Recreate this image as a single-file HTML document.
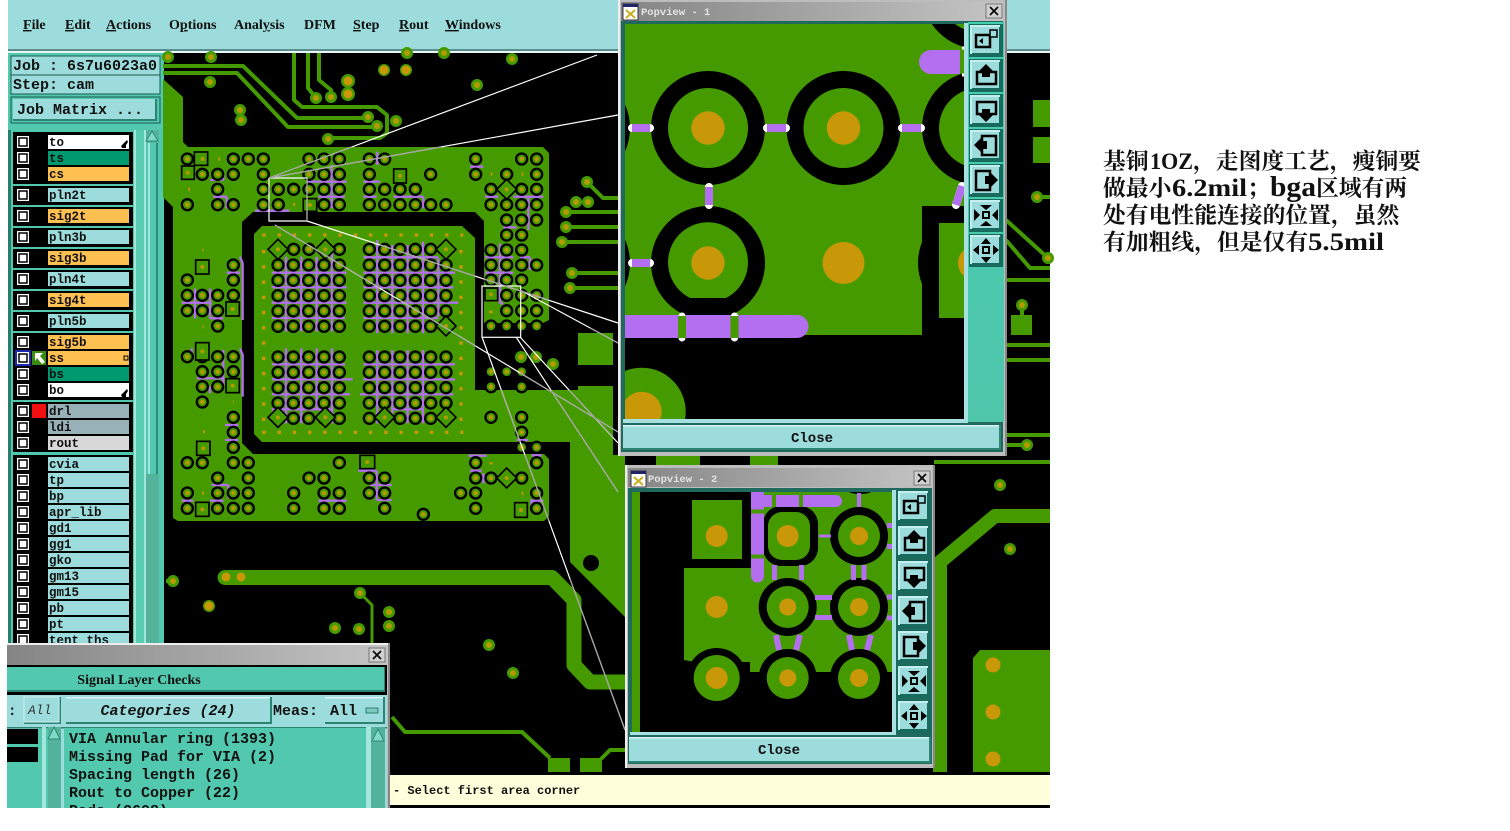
<!DOCTYPE html>
<html><head><meta charset="utf-8"><title>Popview</title>
<style>html,body{margin:0;padding:0;background:#fff;width:1510px;height:831px;overflow:hidden}svg{display:block}
.m{font-family:"Liberation Mono",monospace;font-weight:700;fill:#111}
.s{font-family:"Liberation Serif",serif;font-weight:700;fill:#111}
.l{font-family:"Liberation Mono",monospace;font-weight:700;font-size:12.5px;fill:#111}
.c{font-family:"Liberation Serif","Noto Serif CJK SC",serif;font-size:22.8px;fill:#111;font-weight:700}
.e{font-family:"Liberation Serif",serif;font-weight:700;fill:#111}
</style></head><body>
<svg xmlns="http://www.w3.org/2000/svg" width="1510" height="831" viewBox="0 0 1510 831">
<defs>
<linearGradient id="tg" x1="0" x2="1" y1="0" y2="0"><stop offset="0" stop-color="#858585"/><stop offset="1" stop-color="#c4c4c4"/></linearGradient>
<linearGradient id="tv" x1="0" x2="0" y1="0" y2="1"><stop offset="0" stop-color="#45cdb0"/><stop offset="1" stop-color="#4fc5aa"/></linearGradient>
<g id="pd"><circle cx="23" cy="23" r="20" fill="#000"/><circle cx="23" cy="23" r="13" fill="#459a00"/><circle cx="23" cy="23" r="7" fill="#b39a00"/></g>
<pattern id="g1" patternUnits="userSpaceOnUse" x="331" y="382" width="46" height="46"><use href="#pd"/></pattern>
<pattern id="g2" patternUnits="userSpaceOnUse" x="605" y="382" width="46" height="46"><use href="#pd"/></pattern>
<path id="pts" d="M82 87h.01M220 87h.01M265 87h.01M310 87h.01M447 87h.01M492 87h.01M538 87h.01M628 87h.01M674 87h.01M947 87h.01M1085 87h.01M1130 87h.01
M127 133h.01M173 133h.01M220 133h.01M310 133h.01M447 133h.01M492 133h.01M538 133h.01M628 133h.01M812 133h.01M947 133h.01M1040 133h.01M1130 133h.01
M173 178h.01M310 178h.01M355 178h.01M401 178h.01M447 178h.01M492 178h.01M538 178h.01M628 178h.01M674 178h.01M720 178h.01M766 178h.01M993 178h.01M1085 178h.01M1130 178h.01
M82 224h.01M173 224h.01M220 224h.01M310 224h.01M355 224h.01M492 224h.01M538 224h.01M628 224h.01M674 224h.01M720 224h.01M766 224h.01M812 224h.01M858 224h.01M993 224h.01M1040 224h.01M1085 224h.01M1130 224h.01
M1040 270h.01M1085 270h.01M1130 270h.01M1040 315h.01M1085 315h.01M993 360h.01M1040 360h.01M1085 360h.01
M220 405h.01M993 405h.01M1040 405h.01M1085 405h.01M1130 405h.01M82 450h.01M220 450h.01M993 450h.01M1040 450h.01M1085 450h.01
M82 496h.01M127 496h.01M173 496h.01M220 496h.01M1040 496h.01M1085 496h.01M1130 496h.01
M82 542h.01M127 542h.01M173 542h.01M1040 542h.01M1085 542h.01M1130 542h.01M173 588h.01M993 588h.01M1040 588h.01M1085 588h.01M1130 588h.01
M82 680h.01M127 680h.01M173 680h.01M220 680h.01M127 725h.01M173 725h.01M220 725h.01M993 725h.01M1040 725h.01M1085 725h.01
M127 770h.01M173 770h.01M993 770h.01M1085 770h.01M127 816h.01M220 862h.01M993 862h.01M1085 862h.01M220 907h.01M1085 907h.01M220 952h.01M1085 952h.01M1130 952h.01
M82 998h.01M127 998h.01M220 998h.01M265 998h.01M538 998h.01M947 998h.01M1130 998h.01
M173 1044h.01M265 1044h.01M447 1044h.01M492 1044h.01M628 1044h.01M674 1044h.01M947 1044h.01M993 1044h.01M1085 1044h.01
M82 1089h.01M173 1089h.01M220 1089h.01M265 1089h.01M401 1089h.01M492 1089h.01M538 1089h.01M628 1089h.01M674 1089h.01M902 1089h.01M947 1089h.01M1130 1089h.01
M82 1135h.01M173 1135h.01M220 1135h.01M265 1135h.01M401 1135h.01M492 1135h.01M538 1135h.01M674 1135h.01M947 1135h.01M1130 1135h.01M790 1153h.01
M401 358h.01M447 358h.01M538 358h.01M628 358h.01M674 358h.01M720 358h.01M766 358h.01M812 358h.01"/>
<path id="sm" d="M168 57h.01M211 57h.01M210 82h.01M240 110h.01M241 120h.01M316 98h.01M331 97h.01M477 85h.01M512 59h.01M368 117h.01M377 126h.01M396 121h.01M328 139h.01M173 581h.01M360 593h.01M335 628h.01M359 629h.01M389 612h.01M389 626h.01M489 645h.01M513 673h.01M587 182h.01M576 202h.01M588 202h.01M566 212h.01M566 227h.01M562 242h.01M572 273h.01M570 288h.01M521 357h.01M536 357h.01M553 364h.01M1037 197h.01M1048 258h.01M1022 305h.01M1027 445h.01M1010 549h.01M1000 485h.01M209 606h.01M384 70h.01M406 70h.01M407 53h.01M444 53h.01"/>
<g id="b"><rect width="34" height="33" fill="#176a5c"/><rect x="1" y="1" width="30" height="29" fill="#c4efef"/><rect x="3" y="3" width="29" height="28" fill="#176a5c"/><rect x="3" y="3" width="27" height="26" fill="#9cdcdc"/></g>
<g id="i1"><use href="#b"/><path d="M7 11h14v12H7z" fill="none" stroke="#000" stroke-width="2.500"/><path d="M21 6h7v7h-7z" fill="#9cdcdc" stroke="#000" stroke-width="1.500"/><path d="M10 17l4-3v6z"/></g>
<g id="i2"><use href="#b"/><path d="M8 13h19v12H8z" fill="none" stroke="#000" stroke-width="2.500"/><path d="M17 5l7 7h-3v6h-8v-6h-3z"/></g>
<g id="i3"><use href="#b"/><path d="M8 8h19v12H8z" fill="none" stroke="#000" stroke-width="2.500"/><path d="M17 28l7-7h-3v-6h-8v6h-3z"/></g>
<g id="i4"><use href="#b"/><path d="M13 7h14v19H13z" fill="none" stroke="#000" stroke-width="2.500"/><path d="M5 16l7-7v3h6v8h-6v3z"/></g>
<g id="i5"><use href="#b"/><path d="M7 7h14v19H7z" fill="none" stroke="#000" stroke-width="2.500"/><path d="M29 16l-7-7v3h-6v8h6v3z"/></g>
<g id="i6"><use href="#b"/><path d="M14 13h6v6h-6z" fill="none" stroke="#000" stroke-width="2"/><path d="M17 11l-6-5h12zM17 22l-6 5h12zM11 16l-6-6v12zM23 16l6-6v12z"/></g>
<g id="i7"><use href="#b"/><path d="M14 13h6v6h-6z" fill="none" stroke="#000" stroke-width="2"/><path d="M17 4l-5 6h10zM17 29l-5-6h10zM4 16l6-5v10zM30 16l-6-5v10z"/></g>
<g id="cb"><rect width="12" height="12" fill="#fff"/><rect x="2" y="2" width="8" height="8" fill="#fff" stroke="#000" stroke-width="1.500"/></g>
<g id="x"><rect width="16" height="14" fill="#d0d0d0" stroke="#777"/><path d="M4 3l8 8M12 3l-8 8" stroke="#000" stroke-width="1.600"/></g>
<g id="ico"><rect width="15" height="16" fill="#fff" stroke="#334"/><rect width="15" height="3" fill="#226"/><path d="M3 6l9 8M12 6l-9 8" stroke="#c8b020" stroke-width="2"/></g>
<clipPath id="cp1"><rect x="625" y="24" width="339" height="395"/></clipPath>
<clipPath id="cp2"><rect x="632" y="492" width="260" height="240"/></clipPath>
<clipPath id="cd"><rect x="7" y="643" width="384" height="165"/></clipPath>
<clipPath id="cl"><rect x="8" y="130" width="156" height="513"/></clipPath>
</defs>

<rect width="1510" height="831" fill="#fff"/>
<rect x="8" y="0" width="1042" height="52" fill="#9cdcdc"/>
<rect x="8" y="49" width="1042" height="2" fill="#5c8c8c"/><rect x="8" y="51" width="1042" height="2" fill="#e6f6f6"/>
<g class="s" font-size="14">
<text x="23" y="29"><tspan text-decoration="underline">F</tspan>ile</text>
<text x="65" y="29"><tspan text-decoration="underline">E</tspan>dit</text>
<text x="106" y="29"><tspan text-decoration="underline">A</tspan>ctions</text>
<text x="169" y="29">O<tspan text-decoration="underline">p</tspan>tions</text>
<text x="234" y="29">Anal<tspan text-decoration="underline">y</tspan>sis</text>
<text x="304" y="29">DFM</text>
<text x="353" y="29"><tspan text-decoration="underline">S</tspan>tep</text>
<text x="399" y="29"><tspan text-decoration="underline">R</tspan>out</text>
<text x="445" y="29"><tspan text-decoration="underline">W</tspan>indows</text>
</g>

<rect x="8" y="53" width="155" height="590" fill="#52c8ae"/>
<rect x="11" y="56" width="149" height="19" fill="#9cdcdc" stroke="#1c5a50"/>
<rect x="11" y="75" width="149" height="19" fill="#9cdcdc" stroke="#1c5a50"/>
<text class="m" x="13" y="70" font-size="15">Job : 6s7u6023a0</text>
<text class="m" x="13" y="89" font-size="15">Step: cam</text>
<rect x="11" y="97" width="149" height="26" fill="#52c8ae" stroke="#1c5a50"/>
<rect x="13" y="99" width="144" height="22" fill="#2c8474"/><rect x="13" y="99" width="142" height="20" fill="#9cdcdc"/>
<text class="m" x="17" y="114" font-size="15">Job Matrix ...</text>
<g clip-path="url(#cl)">
<rect x="8" y="128" width="126" height="515" fill="#2c7c6e"/>
<rect x="11" y="130" width="123" height="513" fill="#52c8ae"/>
<rect x="134" y="128" width="2" height="515" fill="#a5e6dc"/><rect x="136" y="128" width="8" height="515" fill="#58ccb0"/><rect x="144" y="128" width="2" height="515" fill="#a5e6dc"/>
<rect x="146" y="128" width="13" height="515" fill="#55b39c"/>
<rect x="146" y="143" width="13" height="331" fill="#52c8ae"/><rect x="148" y="143" width="2" height="331" fill="#a5e6dc"/><rect x="156" y="143" width="2" height="331" fill="#2e8a78"/>
<path d="M152 131l6 10h-12z" fill="#7fd8c8" stroke="#2e8a78"/>
<g fill="#000">
<rect x="13" y="132" width="120" height="52"/><rect x="13" y="186" width="120" height="19"/><rect x="13" y="207" width="120" height="19"/><rect x="13" y="228" width="120" height="19"/><rect x="13" y="249" width="120" height="19"/><rect x="13" y="270" width="120" height="19"/><rect x="13" y="291" width="120" height="19"/><rect x="13" y="312" width="120" height="19"/><rect x="13" y="333" width="120" height="67"/><rect x="13" y="402" width="120" height="50"/><rect x="13" y="455" width="120" height="190"/>
</g>
<g fill="#9cdcdc">
<rect x="48" y="135" width="81" height="14" fill="#fff"/><rect x="48" y="151" width="81" height="14" fill="#009a70"/><rect x="48" y="167" width="81" height="14" fill="#ffc052"/>
<rect x="48" y="188" width="81" height="14"/><rect x="48" y="209" width="81" height="14" fill="#ffc052"/><rect x="48" y="230" width="81" height="14"/><rect x="48" y="251" width="81" height="14" fill="#ffc052"/><rect x="48" y="272" width="81" height="14"/><rect x="48" y="293" width="81" height="14" fill="#ffc052"/><rect x="48" y="314" width="81" height="14"/>
<rect x="48" y="335" width="81" height="14" fill="#ffc052"/><rect x="48" y="351" width="81" height="14" fill="#ffc052"/><rect x="48" y="367" width="81" height="14" fill="#009a70"/><rect x="48" y="383" width="81" height="14" fill="#fff"/>
<rect x="48" y="404" width="81" height="14" fill="#98b0b8"/><rect x="48" y="420" width="81" height="14" fill="#98b0b8"/><rect x="48" y="436" width="81" height="14" fill="#d8d8d8"/>
<rect x="48" y="457" width="81" height="14"/><rect x="48" y="473" width="81" height="14"/><rect x="48" y="489" width="81" height="14"/><rect x="48" y="505" width="81" height="14"/><rect x="48" y="521" width="81" height="14"/><rect x="48" y="537" width="81" height="14"/><rect x="48" y="553" width="81" height="14"/><rect x="48" y="569" width="81" height="14"/><rect x="48" y="585" width="81" height="14"/><rect x="48" y="601" width="81" height="14"/><rect x="48" y="617" width="81" height="14"/><rect x="48" y="633" width="81" height="14"/>
</g>
<use href="#cb" x="17" y="136"/><use href="#cb" x="17" y="152"/><use href="#cb" x="17" y="168"/><use href="#cb" x="17" y="189"/><use href="#cb" x="17" y="210"/><use href="#cb" x="17" y="231"/><use href="#cb" x="17" y="252"/><use href="#cb" x="17" y="273"/><use href="#cb" x="17" y="294"/><use href="#cb" x="17" y="315"/><use href="#cb" x="17" y="336"/><use href="#cb" x="17" y="352"/><use href="#cb" x="17" y="368"/><use href="#cb" x="17" y="384"/><use href="#cb" x="17" y="405"/><use href="#cb" x="17" y="421"/><use href="#cb" x="17" y="437"/><use href="#cb" x="17" y="458"/><use href="#cb" x="17" y="474"/><use href="#cb" x="17" y="490"/><use href="#cb" x="17" y="506"/><use href="#cb" x="17" y="522"/><use href="#cb" x="17" y="538"/><use href="#cb" x="17" y="554"/><use href="#cb" x="17" y="570"/><use href="#cb" x="17" y="586"/><use href="#cb" x="17" y="602"/><use href="#cb" x="17" y="618"/><use href="#cb" x="17" y="634"/>
<rect x="16" y="351" width="14" height="14" fill="none" stroke="#1a2ab0" stroke-width="2"/>
<rect x="32" y="351" width="14" height="14" fill="#3a8c10"/><path d="M35 353h8l-3 3 5 6-3 2-5-6-2 3z" fill="#fff"/>
<rect x="32" y="404" width="14" height="14" fill="#f01010"/>
<g class="l">
<text x="49" y="146">to</text><text x="49" y="162">ts</text><text x="49" y="178">cs</text><text x="49" y="199">pln2t</text><text x="49" y="220">sig2t</text><text x="49" y="241">pln3b</text><text x="49" y="262">sig3b</text><text x="49" y="283">pln4t</text><text x="49" y="304">sig4t</text><text x="49" y="325">pln5b</text><text x="49" y="346">sig5b</text><text x="49" y="362">ss</text><text x="49" y="378">bs</text><text x="49" y="394">bo</text><text x="49" y="415">drl</text><text x="49" y="431">ldi</text><text x="49" y="447">rout</text><text x="49" y="468">cvia</text><text x="49" y="484">tp</text><text x="49" y="500">bp</text><text x="49" y="516">apr_lib</text><text x="49" y="532">gd1</text><text x="49" y="548">gg1</text><text x="49" y="564">gko</text><text x="49" y="580">gm13</text><text x="49" y="596">gm15</text><text x="49" y="612">pb</text><text x="49" y="628">pt</text><text x="49" y="644">tent_ths</text>
</g>
<path d="M121 146l6-6 1 2-2 3v3h-4zM121 395l6-6 1 2-2 3v3h-4z"/>
<rect x="124" y="356" width="4" height="4" fill="none" stroke="#000"/>
</g>

<rect x="163" y="53" width="887" height="720" fill="#000"/>
<rect x="163" y="53" width="1" height="590" fill="#52c8ae"/>
<g fill="#459a00">
<path d="M163 79L183 97V142L188 147H543L549 153V320L543 323H484V454H544L549 459V516L544 521H178L173 518V207L163 197Z"/>
<path d="M253 212H475L484 221V454H253L242 443V222Z" fill="#000"/>
<path d="M262 226H462L475 238V390H578V386H613V442H262L254 434V234Z"/>
<rect x="578" y="333" width="35" height="32"/>
<path d="M570 442H613V455H625V617L570 562Z"/>
<path d="M973 658L980 650H1050V772H973Z"/>
<rect x="548" y="758" width="22" height="14"/><rect x="580" y="758" width="22" height="14"/>
<rect x="1033" y="100" width="17" height="27"/><rect x="1033" y="137" width="17" height="26"/><rect x="1011" y="315" width="21" height="20"/>
<rect x="656" y="456" width="44" height="9"/><rect x="750" y="456" width="28" height="9"/>
</g>
<circle cx="591" cy="563" r="8" fill="#000"/>
<g fill="none" stroke="#459a00" stroke-width="4" stroke-linejoin="round">
<path d="M163 66H243L297 118H368"/><path d="M163 73H237L288 127H377"/>
<path d="M294 53V100L302 107H377L387 115V133L380 138H328"/>
<path d="M308 53V88L316 98"/><path d="M319 53V80L331 90V97"/>
<path d="M360 593L372 605V643" stroke-width="3"/>
<path d="M392 717L405 732H522L550 758"/>
<path d="M600 760L610 750H625"/>
<path d="M225 577.5H552L574 600V665L590 682H625" stroke-width="15" stroke-linecap="round"/>
<path d="M587 182L603 198H618M566 212H618M566 227H618M562 242H618M572 273H618M570 288H618" stroke-width="4"/>
<path d="M1050 516H995L940 562V772" stroke-width="14"/>
<path d="M1037 197H1050M1006 220L1048 258M1006 240L1030 268H1050M1006 280H1050M1006 345H1050M1006 360H1050M1006 435H1050M1006 445H1027M934 462H1050"/>
<path d="M1022 305V318M173 581H166" stroke-width="4"/>
</g>
<use href="#sm" fill="none" stroke="#459a00" stroke-width="12" stroke-linecap="round"/>
<use href="#sm" fill="none" stroke="#b39a00" stroke-width="6" stroke-linecap="round"/>
<path d="M348 81h.01M348 94h.01" stroke="#459a00" stroke-width="14" stroke-linecap="round"/>
<path d="M348 81h.01M348 94h.01M384 70h.01M406 70h.01M226 577h.01M241 577h.01M209 606h.01" stroke="#c89808" stroke-width="9" stroke-linecap="round"/>
<path d="M993 665h.01M993 712h.01M993 759h.01" stroke="#c89808" stroke-width="15" stroke-linecap="round"/>
<g transform="translate(160,130) scale(.33333)">
<path d="M307 315H910M307 907H910M311 360V880M903 360V880M127 360H130M127 590H130M130 905H135M220 815H222M85 178H90M175 87H180M175 133H180M400 224H405M993 132H997M1085 132H1090M993 997V1003M1085 1090H1090M993 542V550M127 1090H132" stroke="#c89808" stroke-width="10" stroke-dasharray="10 35.700" fill="none"/>
<g stroke="#b36ff0" stroke-width="7" fill="none">
<path d="M335 428H560M335 472H560M335 518H560M335 564H555M378 380V605M424 380V605M470 380V605M516 350V605"/>
<path d="M610 382H835M610 428H885M610 472H880M610 518H895M610 564H835M652 330V610M697 345V610M743 345V610M789 335V610M835 385V560"/>
<path d="M335 703H555M335 748H578M335 793H570M335 838H520M378 655V880M424 655V880M470 655V838M516 655V880"/>
<path d="M610 703H885M610 748H885M600 793H880M700 838H790M652 660V880M697 660V850M743 660V880M789 660V880"/>
<path d="M150 150H190M190 130V150M160 200H200M200 200V235M285 242H388M440 155H560M515 105V235M475 200H555M652 65V105M610 155H660M610 200H650M700 200H790M790 200V235M930 110H970M975 200H1015M1060 200H1150M1105 200V300M1130 200V230M1030 292H1070M1020 340V520M975 382H1060M975 428H1060M1080 382H1110M1110 382V420"/>
<path d="M240 380L248 400V570M200 428H240M65 518H155M105 475V565M150 475V565M150 565H190M95 655V695M240 655L248 675V800M190 660V770M110 745H190M150 790V770M195 885H235M195 930H235"/>
<path d="M925 977H980M930 1022H965M970 1030V1060M595 1022H650M650 1022V1110M630 1065H695M650 1110H695M155 1065H205M205 1065V1105M65 1112H100M150 1112H190M475 1112H560M1110 1112H1150M1115 1108V1135M1115 976H1145M1070 930H1105M1030 520H1020"/>
</g>
<rect x="331" y="382" width="230" height="230" fill="url(#g1)"/>
<rect x="605" y="382" width="276" height="230" fill="url(#g2)"/>
<rect x="331" y="658" width="230" height="230" fill="url(#g1)"/>
<rect x="605" y="658" width="276" height="230" fill="url(#g2)"/>
<use href="#pts" fill="none" stroke="#000" stroke-width="40" stroke-linecap="round"/>
<use href="#pts" fill="none" stroke="#459a00" stroke-width="26" stroke-linecap="round"/>
<use href="#pts" fill="none" stroke="#b39a00" stroke-width="14" stroke-linecap="round"/>
<g fill="#459a00" stroke="#000" stroke-width="5">
<rect x="103" y="66" width="40" height="40"/><rect x="65" y="108" width="38" height="40"/><rect x="701" y="117" width="38" height="42"/><rect x="430" y="206" width="40" height="38"/><rect x="107" y="390" width="40" height="42"/><rect x="198" y="516" width="40" height="42"/><rect x="107" y="638" width="40" height="52"/><rect x="198" y="746" width="40" height="42"/><rect x="110" y="934" width="40" height="42"/><rect x="107" y="1117" width="40" height="42"/><rect x="600" y="976" width="44" height="40"/><rect x="1064" y="1118" width="38" height="44"/><rect x="975" y="474" width="38" height="38"/>
<path d="M354 328l30 30-30 30-30-30zM496 328l30 30-30 30-30-30zM858 328l30 30-30 30-30-30zM858 558l30 30-30 30-30-30zM354 832l30 30-30 30-30-30zM496 832l30 30-30 30-30-30zM674 832l30 30-30 30-30-30zM858 832l30 30-30 30-30-30zM1040 148l30 30-30 30-30-30zM1040 1014l30 30-30 30-30-30z"/>
</g>
<path d="M128 87h.01M83 128h.01M720 138h.01M450 225h.01M127 411h.01M218 537h.01M127 664h.01M218 767h.01M130 955h.01M127 1138h.01M622 996h.01M1083 1140h.01M993 493h.01M354 358h.01M496 358h.01M858 358h.01M858 588h.01M354 862h.01M496 862h.01M674 862h.01M858 862h.01M1040 178h.01M1040 1044h.01" stroke="#b39a00" stroke-width="12" stroke-linecap="round"/>
</g>
<g fill="none" stroke="#fff" stroke-width="1.200">
<path d="M269 178L597 55"/><path d="M269 178L618 115"/>
<path d="M269 178V221H307V178H269"/>
<path d="M307 221L618 323"/><path d="M275 225L618 432"/>
<rect x="482" y="286" width="38.700" height="51.300"/>
<path d="M482 337L625 730"/><path d="M516 337L618 492"/><path d="M520 337L618 443"/><path d="M520 290L618 343"/>
</g>
<g fill="none" stroke="#a0a0a0" stroke-width="1.200">
<path d="M269 178L352 147"/><path d="M269 178L441 147"/>
<path d="M307 178V221"/><path d="M380 245L475 276M484 279L549 300"/>
<path d="M275 225L380 288M400 300L475 346M520 373L618 432"/>
<path d="M501 390L520 442M525 455L549 521M570 579L625 730"/>
<path d="M551 390L618 492"/><path d="M569 390L613 437"/><path d="M590 328L618 343"/>
</g>

<rect x="618" y="0" width="389" height="456" fill="#bdbdbd"/><rect x="618" y="0" width="2" height="456" fill="#eee"/><rect x="1005" y="0" width="2" height="456" fill="#888"/>
<rect x="621" y="2" width="382" height="19" fill="url(#tg)"/>
<use href="#ico" x="623" y="4"/>
<text x="641" y="15" font-family="Liberation Mono,monospace" font-size="10.500" fill="#e4e4e4" font-weight="700">Popview - 1</text>
<use href="#x" x="986" y="4"/>
<rect x="621" y="21" width="382" height="431" fill="#1f6a5c"/>
<rect x="964" y="23" width="4" height="400" fill="#a6e0e0"/><rect x="623" y="419" width="345" height="4" fill="#a6e0e0"/>
<g clip-path="url(#cp1)">
<rect x="625" y="24" width="339" height="395" fill="#459a00"/>
<g fill="#000"><circle cx="708" cy="128" r="57"/><circle cx="843.500" cy="128" r="57"/><circle cx="979" cy="128" r="57"/><circle cx="708" cy="263" r="57"/><circle cx="573" cy="128" r="57"/><circle cx="573" cy="263" r="57"/><circle cx="979" cy="-8" r="57"/></g>
<g fill="#459a00"><circle cx="708" cy="128" r="40"/><circle cx="843.500" cy="128" r="40"/><circle cx="979" cy="128" r="40"/><path d="M690 298A40 40 0 1 1 726 298Z"/><circle cx="979" cy="-8" r="40"/></g>
<rect x="922" y="206" width="42" height="130" fill="#000"/><circle cx="975" cy="263" r="57" fill="#000"/>
<rect x="939" y="223" width="25" height="95" fill="#459a00"/>
<g fill="#c89808"><circle cx="708" cy="128" r="16.700"/><circle cx="843.500" cy="128" r="16.700"/><circle cx="708" cy="263" r="16.700"/><circle cx="843.500" cy="263" r="21"/><circle cx="975" cy="263" r="17"/></g>
<rect x="625" y="335" width="339" height="84" fill="#000"/>
<circle cx="641.700" cy="411.700" r="44" fill="#459a00"/><circle cx="641.700" cy="411.700" r="20" fill="#c89808"/>
<path d="M625 315H797A11.500 11.500 0 0 1 797 338H625Z" fill="#b36ff0"/>
<path d="M682 316V338M734.500 316V338" stroke="#fff" stroke-width="7" stroke-linecap="round"/>
<path d="M682 316V338M734.500 316V338" stroke="#459a00" stroke-width="8"/>
<path d="M931 50H960V74H931A12 12 0 0 1 931 50Z" fill="#b36ff0"/>
<rect x="960" y="50" width="4" height="24" fill="#459a00"/><path d="M962 48h4M962 75h4" stroke="#fff" stroke-width="3"/>
<path d="M632 128H650M767 128H786M902 128H921M632 263H650M709 187V205M962 186L956 205" fill="none" stroke="#fff" stroke-width="8" stroke-linecap="round"/>
<path d="M632 128H650M767 128H786M902 128H921M632 263H650M709 187V205M962 186L956 205" fill="none" stroke="#b36ff0" stroke-width="8"/>
</g>
<rect x="968" y="22" width="36" height="400" fill="url(#tv)"/>
<use href="#i1" x="969" y="24"/><use href="#i2" x="969" y="59"/><use href="#i3" x="969" y="94"/><use href="#i4" x="969" y="129"/><use href="#i5" x="969" y="164"/><use href="#i6" x="969" y="199"/><use href="#i7" x="969" y="234"/>
<rect x="623" y="425" width="378" height="25" fill="#2c8474"/><rect x="623" y="425" width="376" height="23" fill="#9cdcdc"/>
<rect x="623" y="425" width="376" height="1.500" fill="#d8f4f4"/>
<text class="m" x="812" y="442" font-size="14" text-anchor="middle">Close</text>

<rect x="625" y="465" width="310" height="303" fill="#bdbdbd"/><rect x="625" y="465" width="2" height="303" fill="#eee"/><rect x="933" y="465" width="2" height="303" fill="#888"/>
<rect x="628" y="468" width="304" height="19" fill="url(#tg)"/>
<use href="#ico" x="631" y="471"/>
<text x="648" y="482" font-family="Liberation Mono,monospace" font-size="10.500" fill="#e4e4e4" font-weight="700">Popview - 2</text>
<use href="#x" x="914" y="471"/>
<rect x="628" y="488" width="304" height="276" fill="#1f6a5c"/>
<rect x="892" y="490" width="4" height="245" fill="#a6e0e0"/><rect x="630" y="732" width="266" height="3" fill="#a6e0e0"/>
<g clip-path="url(#cp2)">
<rect x="632" y="492" width="260" height="240" fill="#000"/>
<rect x="632" y="492" width="8" height="240" fill="#459a00"/>
<path d="M684 568H764V492H892V672H750L684 660Z" fill="#459a00"/>
<rect x="692" y="500" width="50" height="59" fill="#459a00"/>
<rect x="684" y="662" width="66" height="16" fill="#000"/>
<rect x="750" y="672" width="142" height="60" fill="#000"/>
<ellipse cx="860" cy="490" rx="13" ry="4" fill="#000"/>
<g fill="#000"><rect x="763" y="506" width="55" height="60" rx="18"/><circle cx="859" cy="536" r="29"/><circle cx="787.700" cy="607" r="29"/><circle cx="859" cy="607" r="29"/><circle cx="716.700" cy="678" r="30"/><circle cx="787.700" cy="678" r="29"/><circle cx="859" cy="678" r="29"/></g>
<g fill="#459a00"><rect x="768" y="512" width="42" height="48" rx="14"/><circle cx="859" cy="536" r="21"/><circle cx="787.700" cy="607" r="21"/><circle cx="859" cy="607" r="21"/><circle cx="716.700" cy="678" r="23"/><circle cx="787.700" cy="678" r="21"/><circle cx="859" cy="678" r="21"/></g>
<g fill="#c89808"><circle cx="716.700" cy="536" r="11"/><circle cx="716.700" cy="607" r="11"/><circle cx="787.700" cy="536" r="11"/><circle cx="859" cy="536" r="9"/><circle cx="787.700" cy="607" r="8.500"/><circle cx="859" cy="607" r="9"/><circle cx="716.700" cy="678" r="11"/><circle cx="787.700" cy="678" r="8.500"/><circle cx="859" cy="678" r="9"/></g>
<path d="M751 492H764V495H836A6 6 0 0 1 836 507H764V576A6 6 0 0 1 751 576Z" fill="#b36ff0"/>
<path d="M751 511.500H764M751 556.500H764M774 495V507M801 495V507" stroke="#459a00" stroke-width="4"/>
<g fill="none" stroke="#b36ff0"><path d="M774.500 565V580M801.500 565V580M853.500 565V580M864 565V580" stroke-width="5"/><path d="M859 493V507" stroke-width="4"/><path d="M819 536H831" stroke-width="3"/><path d="M887 525.500H892M887 546.500H892M887 597H892M887 618H892" stroke-width="5"/><path d="M815 597.500H832M815 617.500H832" stroke-width="5"/><path d="M776 635L779 650M800 635L796 650M849 635L852 650M871 635L867 650" stroke-width="6"/></g>
</g>
<use href="#i1" x="897" y="490"/><use href="#i2" x="897" y="525"/><use href="#i3" x="897" y="560"/><use href="#i4" x="897" y="595"/><use href="#i5" x="897" y="630"/><use href="#i6" x="897" y="665"/><use href="#i7" x="897" y="700"/>
<rect x="629" y="737" width="302" height="26" fill="#2c8474"/><rect x="629" y="737" width="300" height="24" fill="#9cdcdc"/>
<rect x="629" y="737" width="300" height="1.500" fill="#d8f4f4"/>
<text class="m" x="779" y="754" font-size="14" text-anchor="middle">Close</text>

<rect x="390" y="772" width="660" height="36" fill="#000"/><rect x="390" y="775" width="660" height="30" fill="#ffffdc"/>
<text class="m" x="393" y="794" font-size="12">- Select first area corner</text>

<g clip-path="url(#cd)">
<rect x="7" y="643" width="383" height="166" fill="#bdbdbd"/><rect x="7" y="643" width="383" height="2" fill="#eee"/><rect x="388" y="643" width="2" height="166" fill="#888"/>
<rect x="7" y="645" width="381" height="20" fill="url(#tg)"/>
<use href="#x" x="369" y="648"/>
<rect x="7" y="665" width="380" height="144" fill="#000"/>
<rect x="7" y="667" width="378" height="25" fill="#2c8474"/><rect x="7" y="667" width="377" height="23" fill="#52c8ae"/>
<text class="s" x="139" y="684" font-size="14" text-anchor="middle">Signal Layer Checks</text>
<rect x="7" y="695" width="380" height="32" fill="#9cdcdc"/>
<text class="m" x="8" y="715" font-size="14">:</text>
<rect x="24" y="697" width="37" height="27" fill="#2c8474"/><rect x="24" y="697" width="35" height="25" fill="#9cdcdc" stroke="#d0f0f0"/>
<text x="28" y="714" font-family="Liberation Mono,monospace" font-size="13" font-style="italic" fill="#333">All</text>
<rect x="66" y="697" width="206" height="27" fill="#2c8474"/><rect x="66" y="697" width="204" height="25" fill="#9cdcdc"/><rect x="66" y="697" width="204" height="1.500" fill="#d8f4f4"/>
<text class="m" x="168" y="715" font-size="15" text-anchor="middle" font-style="italic">Categories (24)</text>
<text class="m" x="273" y="715" font-size="15">Meas:</text>
<rect x="325" y="697" width="60" height="27" fill="#2c8474"/><rect x="325" y="697" width="58" height="25" fill="#9cdcdc"/><rect x="325" y="697" width="58" height="1.500" fill="#d8f4f4"/>
<text class="m" x="330" y="715" font-size="15">All</text>
<rect x="366" y="708" width="12" height="5" fill="#7fc8c0" stroke="#2c8474"/>
<rect x="7" y="727" width="380" height="82" fill="#9cdcdc"/><rect x="7" y="727" width="380" height="1.500" fill="#2c8474"/>
<rect x="7" y="729" width="53" height="80" fill="#52c8ae"/>
<rect x="7" y="729" width="31" height="15" fill="#000"/><rect x="7" y="747" width="31" height="15" fill="#000"/>
<rect x="42" y="727" width="4" height="82" fill="#a5e6dc"/><rect x="48" y="727" width="13" height="82" fill="#52b29a"/>
<path d="M54 727l6 12h-12z" fill="#7fd8c8" stroke="#2e8a78"/>
<rect x="64" y="728" width="303" height="81" fill="#52c8ae"/>
<rect x="366" y="727" width="5" height="82" fill="#a5e6dc"/><rect x="371" y="727" width="14" height="82" fill="#52b29a"/>
<path d="M378 729l6 12h-12z" fill="#7fd8c8" stroke="#2e8a78"/>
<g class="m" font-size="15">
<text x="69" y="743">VIA Annular ring (1393)</text>
<text x="69" y="761">Missing Pad for VIA (2)</text>
<text x="69" y="779">Spacing length (26)</text>
<text x="69" y="797">Rout to Copper (22)</text>
<text x="69" y="815">Pads (2608)</text>
</g>
</g>

<text class="c" x="1103" y="169">基铜</text><text class="e" x="1150" y="169" font-size="23" textLength="43" lengthAdjust="spacingAndGlyphs">1OZ</text><text class="c" x="1193" y="169">，走图度工艺，瘦铜要</text>
<text class="c" x="1103" y="196">做最小</text><text class="e" x="1172" y="196" font-size="25" textLength="75" lengthAdjust="spacingAndGlyphs">6.2mil</text><text class="c" x="1247" y="196">；</text><text class="e" x="1270" y="196" font-size="29" textLength="46" lengthAdjust="spacingAndGlyphs">bga</text><text class="c" x="1316" y="196">区域有两</text>
<text class="c" x="1103" y="223">处有电性能连接的位置，虽然</text>
<text class="c" x="1103" y="250">有加粗线，但是仅有</text><text class="e" x="1308" y="250" font-size="25" textLength="76" lengthAdjust="spacingAndGlyphs">5.5mil</text>
</svg>
</body></html>
